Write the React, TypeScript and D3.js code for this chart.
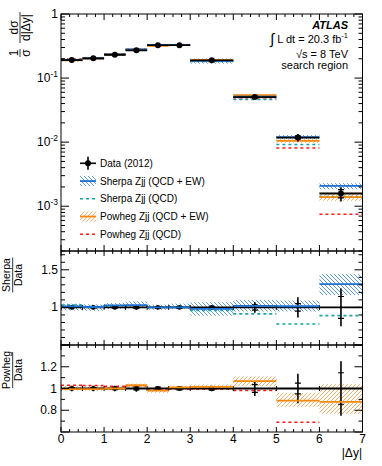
import React, { useEffect, useRef } from 'react';
import * as d3 from 'd3';

const width = 382;
const height = 466;
const left = 61, right = 362.5;

// bins in |Δy|
const binEdges = [0, 0.5, 1, 1.5, 2, 2.5, 3, 4, 5, 6, 7];

// data (top panel, normalised), relative total and stat errors
const dataVals = [0.191, 0.203, 0.231, 0.271, 0.326, 0.326, 0.189, 0.0505, 0.0118, 0.00158];
const dataTot = [0.025, 0.025, 0.025, 0.03, 0.02, 0.02, 0.025, 0.07, 0.135, 0.25];
const dataStat = [0.008, 0.008, 0.01, 0.012, 0.012, 0.012, 0.015, 0.035, 0.05, 0.145];

// Sherpa Zjj (QCD + EW)
const sherpaVals = [0.193, 0.204, 0.235, 0.279, 0.326, 0.326, 0.185, 0.0515, 0.012, 0.00207];
const sherpaRatio = [1.013, 1.005, 1.027, 1.03, 1.0, 1.0, 0.98, 1.02, 1.015, 1.31];
const sherpaLo = [0.96, 0.955, 0.98, 0.99, 0.97, 0.98, 0.89, 0.945, 0.946, 1.164];
const sherpaHi = [1.05, 1.04, 1.06, 1.08, 1.036, 1.05, 1.07, 1.1, 1.09, 1.445];
// Sherpa Zjj (QCD)
const sherpaQcdVals = [0.197, 0.205, 0.236, 0.278, 0.326, 0.326, 0.181, 0.0462, 0.0092, 0.00141];
const sherpaQcdRatio = [1.03, 1.01, 1.025, 1.025, 1.0, 1.0, 0.96, 0.914, 0.78, 0.89];

// Powheg Zjj (QCD + EW)
const powhegVals = [0.189, 0.201, 0.231, 0.279, 0.319, 0.329, 0.192, 0.054, 0.0105, 0.00139];
const powhegRatio = [0.995, 0.995, 1.0, 1.03, 0.98, 1.01, 1.015, 1.068, 0.889, 0.877];
const powhegLo = [0.98, 0.98, 0.985, 1.01, 0.96, 0.995, 0.99, 1.02, 0.83, 0.767];
const powhegHi = [1.03, 1.03, 1.02, 1.045, 1.0, 1.025, 1.036, 1.11, 0.96, 1.04];
// Powheg Zjj (QCD)
const powhegQcdVals = [0.196, 0.207, 0.236, 0.279, 0.324, 0.325, 0.188, 0.0495, 0.0081, 0.00075];
const powhegQcdRatio = [1.03, 1.027, 1.02, 1.025, 0.995, 0.997, 0.995, 0.982, 0.69, 0.47];

const xTicks = [0, 1, 2, 3, 4, 5, 6, 7];
const topYTicks = [1, 0.1, 0.01, 0.001];
const midYTicks = [1, 1.5];
const botYTicks = [0.8, 1, 1.2];

const legendItems = ["Data (2012)", "Sherpa Zjj (QCD + EW)", "Sherpa Zjj (QCD)", "Powheg Zjj (QCD + EW)", "Powheg Zjj (QCD)"];

const sherpaBlue = '#1f6fd1', sherpaHatch = '#4a90e2', sherpaQcdCol = '#17a3a3';
const powhegOrange = '#f28a12', powhegHatch = '#f5a550', powhegQcdCol = '#ff1a1a';
const font = '"Liberation Sans", Arial, Helvetica, sans-serif';

const App = () => {
    const ref = useRef(null);

    useEffect(() => {
        const svg = d3.select(ref.current);
        svg.selectAll("*").remove();
        svg.attr("viewBox", [0, 0, width, height]).style("font-family", font);

        const defs = svg.append("defs");
        const hatch = (id, color, d) => {
            defs.append("pattern").attr("id", id).attr("patternUnits", "userSpaceOnUse")
                .attr("width", 4).attr("height", 4)
                .append("path").attr("d", d).attr("stroke", color).attr("stroke-width", 0.9).attr("fill", "none");
        };
        hatch("hSherpa", sherpaHatch, "M0,0 L4,4 M-1,3 L1,5 M3,-1 L5,1");
        hatch("hPowheg", powhegHatch, "M0,4 L4,0 M-1,1 L1,-1 M3,5 L5,3");

        const x = d3.scaleLinear().domain([0, 7]).range([left, right]);
        const yTop = d3.scaleLog().domain([2e-4, 1]).range([251, 14]);
        const yMid = d3.scaleLinear().domain([0.5, 1.75]).range([345, 251]);
        const yBot = d3.scaleLinear().domain([0.6, 1.4]).range([432, 345]);

        const bins = d3.range(binEdges.length - 1);
        const mid = i => (binEdges[i] + binEdges[i + 1]) / 2;

        const clip = (id, y) => {
            const r = y.range();
            defs.append("clipPath").attr("id", id).append("rect")
                .attr("x", left).attr("y", r[1]).attr("width", right - left).attr("height", r[0] - r[1]);
        };
        clip("cTop", yTop); clip("cMid", yMid); clip("cBot", yBot);

        const band = (g, y, lo, hi, fill) => g.append("g").selectAll("rect").data(bins).join("rect")
            .attr("x", i => x(binEdges[i]))
            .attr("width", i => x(binEdges[i + 1]) - x(binEdges[i]))
            .attr("y", i => y(hi(i)))
            .attr("height", i => y(lo(i)) - y(hi(i)))
            .attr("fill", fill);

        const steps = (g, y, vals, color, w, dash) => g.append("g").selectAll("line").data(bins).join("line")
            .attr("x1", i => x(binEdges[i])).attr("x2", i => x(binEdges[i + 1]))
            .attr("y1", i => y(vals[i])).attr("y2", i => y(vals[i]))
            .attr("stroke", color).attr("stroke-width", w)
            .attr("stroke-dasharray", dash);

        const dataMarks = (g, y, val, ratio) => {
            const d = g.append("g");
            d.selectAll(".h").data(bins).join("line")
                .attr("x1", i => x(binEdges[i])).attr("x2", i => x(binEdges[i + 1]))
                .attr("y1", i => y(val(i))).attr("y2", i => y(val(i)))
                .attr("stroke", "#000").attr("stroke-width", 1.8);
            if (ratio) {
                d.selectAll(".e").data(binEdges).join("line")
                    .attr("x1", e => x(e)).attr("x2", e => x(e))
                    .attr("y1", y(1) - 2.5).attr("y2", y(1) + 2.5)
                    .attr("stroke", "#000").attr("stroke-width", 1);
            }
            d.selectAll(".v").data(bins).join("line")
                .attr("x1", i => x(mid(i))).attr("x2", i => x(mid(i)))
                .attr("y1", i => y(val(i) * (1 + dataTot[i]))).attr("y2", i => y(val(i) * (1 - dataTot[i])))
                .attr("stroke", "#000").attr("stroke-width", 1.6);
            [1, -1].forEach(s => {
                d.selectAll(".s" + s).data(bins).join("line")
                    .attr("x1", i => x(mid(i)) - 3).attr("x2", i => x(mid(i)) + 3)
                    .attr("y1", i => y(val(i) * (1 + s * dataStat[i]))).attr("y2", i => y(val(i) * (1 + s * dataStat[i])))
                    .attr("stroke", "#000").attr("stroke-width", 1.2);
            });
            d.selectAll("circle").data(ratio ? bins.filter(i => i < 7) : bins).join("circle")
                .attr("cx", i => x(mid(i))).attr("cy", i => y(val(i)))
                .attr("r", ratio ? 2.4 : 3).attr("fill", "#000");
        };

        // top panel
        const gt = svg.append("g").attr("clip-path", "url(#cTop)");
        band(gt, yTop, i => sherpaVals[i] * sherpaLo[i] / sherpaRatio[i], i => sherpaVals[i] * sherpaHi[i] / sherpaRatio[i], "url(#hSherpa)");
        band(gt, yTop, i => powhegVals[i] * powhegLo[i] / powhegRatio[i], i => powhegVals[i] * powhegHi[i] / powhegRatio[i], "url(#hPowheg)");
        steps(gt, yTop, sherpaQcdVals, sherpaQcdCol, 1.6, "3,3");
        steps(gt, yTop, powhegQcdVals, powhegQcdCol, 1.6, "3,3");
        steps(gt, yTop, powhegVals, powhegOrange, 1.8, null);
        steps(gt, yTop, sherpaVals, sherpaBlue, 1.8, null);
        dataMarks(gt, yTop, i => dataVals[i], false);

        // Sherpa / Data
        const gm = svg.append("g").attr("clip-path", "url(#cMid)");
        band(gm, yMid, i => sherpaLo[i], i => sherpaHi[i], "url(#hSherpa)");
        steps(gm, yMid, sherpaQcdRatio, sherpaQcdCol, 1.6, "3,3");
        dataMarks(gm, yMid, () => 1, true);
        steps(gm, yMid, sherpaRatio, sherpaBlue, 1.8, null);

        // Powheg / Data
        const gb = svg.append("g").attr("clip-path", "url(#cBot)");
        band(gb, yBot, i => powhegLo[i], i => powhegHi[i], "url(#hPowheg)");
        steps(gb, yBot, powhegQcdRatio, powhegQcdCol, 1.6, "3,3");
        dataMarks(gb, yBot, () => 1, true);
        steps(gb, yBot, powhegRatio, powhegOrange, 1.8, null);

        // frames and ticks
        const frame = (y, majors, minors, xMaj, xMin) => {
            const [y1, y0] = y.range();
            const g = svg.append("g").attr("stroke", "#000").attr("stroke-width", 1).attr("fill", "none");
            g.append("rect").attr("x", left).attr("y", y0).attr("width", right - left).attr("height", y1 - y0);
            const xs = d3.range(0, 7.01, 0.2).map(v => +v.toFixed(1));
            xs.forEach(v => {
                const len = Number.isInteger(v) ? xMaj : xMin;
                g.append("line").attr("x1", x(v)).attr("x2", x(v)).attr("y1", y1).attr("y2", y1 - len);
                g.append("line").attr("x1", x(v)).attr("x2", x(v)).attr("y1", y0).attr("y2", y0 + len);
            });
            [[majors, 8], [minors, 4]].forEach(([vals, len]) => vals.forEach(v => {
                g.append("line").attr("x1", left).attr("x2", left + len).attr("y1", y(v)).attr("y2", y(v));
                g.append("line").attr("x1", right).attr("x2", right - len).attr("y1", y(v)).attr("y2", y(v));
            }));
        };
        const logMinors = [];
        [1e-4, 1e-3, 1e-2, 1e-1].forEach(dec => d3.range(2, 10).forEach(k => {
            const v = k * dec;
            if (v >= 2e-4 && v < 1) logMinors.push(v);
        }));
        frame(yTop, topYTicks, logMinors, 6, 3);
        frame(yMid, [0.5, 1, 1.5], d3.range(0.6, 1.75, 0.1).filter(v => Math.abs(v - 1) > 0.01 && Math.abs(v - 1.5) > 0.01), 5, 3);
        frame(yBot, [0.6, 0.8, 1, 1.2, 1.4], [0.7, 0.9, 1.1, 1.3], 5, 3);

        // tick labels
        const lab = svg.append("g").attr("font-size", 12).attr("fill", "#000");
        topYTicks.forEach(v => {
            const t = lab.append("text").attr("x", 58).attr("y", yTop(v) + 4).attr("text-anchor", "end");
            if (v === 1) t.text("1");
            else {
                t.append("tspan").text("10");
                t.append("tspan").attr("dy", -5).attr("font-size", 8.5).text(String(Math.round(Math.log10(v))));
            }
        });
        midYTicks.forEach(v => lab.append("text").attr("x", 58).attr("y", yMid(v) + 4).attr("text-anchor", "end").text(d3.format("~g")(v)));
        botYTicks.forEach(v => lab.append("text").attr("x", 57).attr("y", yBot(v) + 4).attr("text-anchor", "end").text(d3.format("~g")(v)));
        xTicks.forEach(v => lab.append("text").attr("x", x(v)).attr("y", 443).attr("text-anchor", "middle").text(v));
        lab.append("text").attr("x", 362).attr("y", 457).attr("text-anchor", "end").text("|Δy|");

        // axis titles (rotated fractions)
        const frac = (cx, cy, parts, fs, barLen) => {
            parts.forEach(p => {
                const g = svg.append("g").attr("transform", `translate(${cx},${cy - p.off}) rotate(-90)`).attr("font-size", fs);
                g.append("text").attr("x", 0).attr("y", -2.5).attr("text-anchor", "middle").text(p.num);
                g.append("text").attr("x", 0).attr("y", fs * 0.85).attr("text-anchor", "middle").text(p.den);
                g.append("line").attr("x1", -p.len / 2).attr("x2", p.len / 2).attr("y1", 0).attr("y2", 0)
                    .attr("stroke", "#000").attr("stroke-width", 0.8);
            });
        };
        frac(20, 60, [{ off: 7, num: "1", den: "σ", len: 8 }, { off: 32.5, num: "dσ", den: "d|Δy|", len: 31 }], 12);
        frac(12.7, 275, [{ off: 0, num: "Sherpa", den: "Data", len: 35 }], 10.5);
        frac(12.7, 370, [{ off: 0, num: "Powheg", den: "Data", len: 36 }], 10.5);

        // labels top right
        const info = svg.append("g").attr("font-size", 11).attr("text-anchor", "end").attr("fill", "#000");
        info.append("text").attr("x", 348).attr("y", 28.5).attr("font-weight", "bold").attr("font-style", "italic").text("ATLAS");
        const lumi = info.append("text").attr("x", 348).attr("y", 43);
        lumi.append("tspan").attr("font-size", 15).attr("dy", 1).text("∫");
        lumi.append("tspan").attr("dy", -1).text(" L dt = 20.3 fb");
        lumi.append("tspan").attr("dy", -5).attr("font-size", 7.5).text("-1");
        info.append("text").attr("x", 348).attr("y", 57.5).text("√s = 8 TeV");
        info.append("text").attr("x", 348).attr("y", 69).text("search region");

        // legend
        const leg = svg.append("g").attr("font-size", 10);
        const ly = d3.scalePoint().domain(legendItems).range([163.3, 234.3]);
        legendItems.forEach(t => leg.append("text").attr("x", 100).attr("y", ly(t) + 3.6).text(t));
        const lx0 = 80, lx1 = 96;
        const y0 = ly(legendItems[0]);
        leg.append("line").attr("x1", lx0).attr("x2", lx1).attr("y1", y0).attr("y2", y0).attr("stroke", "#000").attr("stroke-width", 1.6);
        leg.append("line").attr("x1", 88).attr("x2", 88).attr("y1", y0 - 6.5).attr("y2", y0 + 6.5).attr("stroke", "#000").attr("stroke-width", 1.6);
        leg.append("circle").attr("cx", 88).attr("cy", y0).attr("r", 3).attr("fill", "#000");
        [[1, "url(#hSherpa)", sherpaBlue], [3, "url(#hPowheg)", powhegOrange]].forEach(([k, f, c]) => {
            const yy = ly(legendItems[k]);
            leg.append("rect").attr("x", lx0).attr("y", yy - 5).attr("width", lx1 - lx0).attr("height", 10).attr("fill", f);
            leg.append("line").attr("x1", lx0).attr("x2", lx1).attr("y1", yy).attr("y2", yy).attr("stroke", c).attr("stroke-width", 1.8);
        });
        [[2, sherpaQcdCol], [4, powhegQcdCol]].forEach(([k, c]) => {
            const yy = ly(legendItems[k]);
            leg.append("line").attr("x1", lx0).attr("x2", lx1).attr("y1", yy).attr("y2", yy)
                .attr("stroke", c).attr("stroke-width", 1.6).attr("stroke-dasharray", "3,3");
        });
    }, []);

    return (
        <svg ref={ref} width={width} height={height}
            style={{ position: 'absolute', left: 0, top: 0, background: '#fff' }}></svg>
    );
};

export default App;
